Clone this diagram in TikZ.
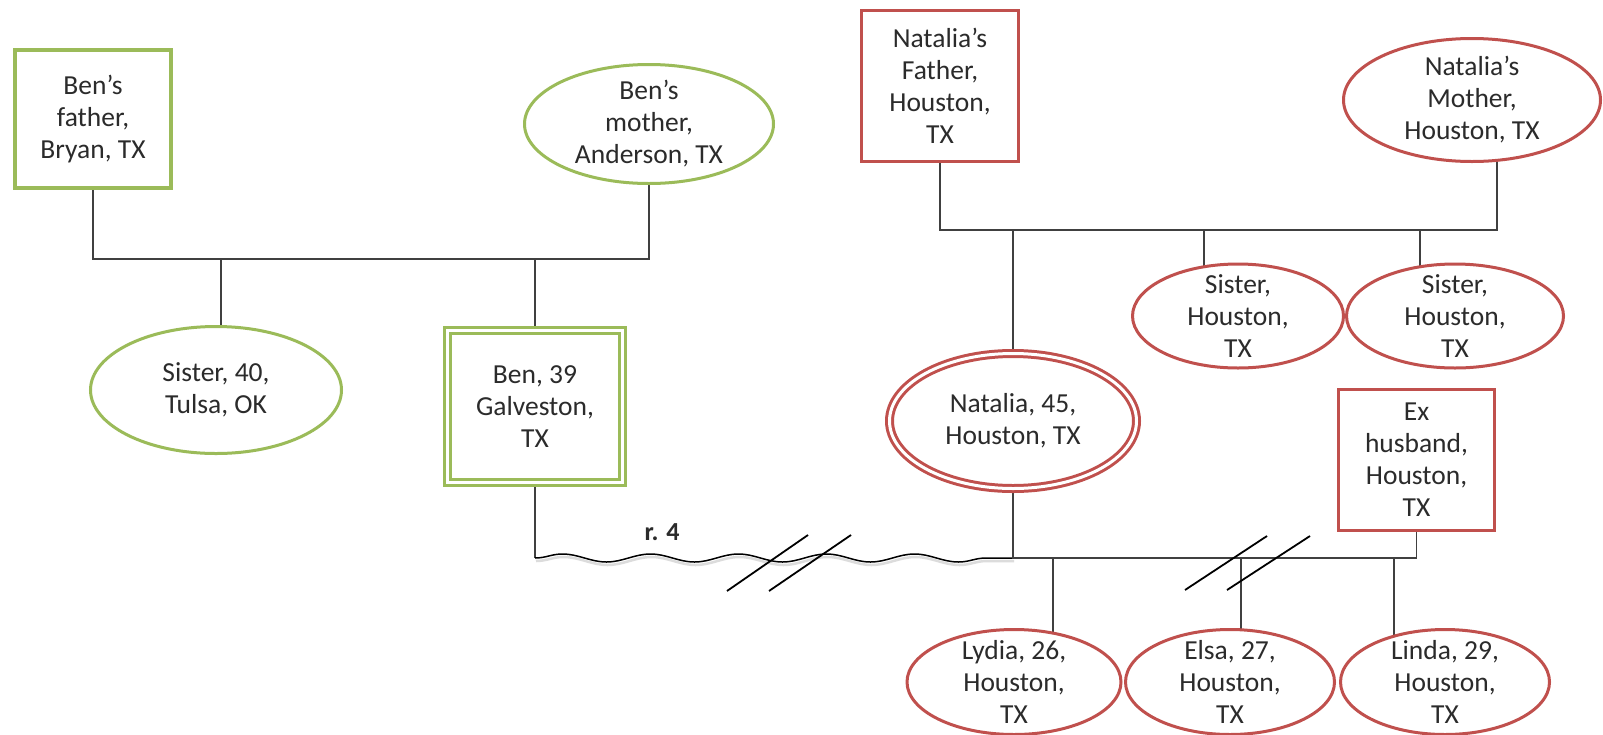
\documentclass[tikz,border=0pt]{standalone}
\usepackage{fontspec}
\setmainfont{Carlito}
\usetikzlibrary{shapes.geometric, decorations.pathmorphing, backgrounds}
\definecolor{grn}{HTML}{9BBB59}
\definecolor{rd}{HTML}{C0504D}
\definecolor{ink}{HTML}{2B2B2B}
\definecolor{wirec}{HTML}{404040}
\begin{document}
\begin{tikzpicture}[x=1pt, y=-1pt,
  person/.style={inner sep=0pt, align=center, text=ink, fill=white,
    font=\fontsize{27.5}{32}\selectfont},
  dims/.style 2 args={minimum width=#1, minimum height=#2},
  greenbox/.style={person, rectangle, draw=grn, line width=3.5pt},
  redbox/.style={person, rectangle, draw=rd, line width=3pt},
  greenoval/.style={person, ellipse, draw=grn, line width=3pt, inner ysep=-20pt},
  redoval/.style={person, ellipse, draw=rd, line width=3pt, inner ysep=-20pt},
  selfmark/.style={double=white, double distance=3pt, line width=3pt},
  wire/.style={draw=wirec, line width=1.8pt},
  wavy/.style={draw=black, line width=1.5pt, decorate,
    decoration={snake, amplitude=4pt, segment length=88pt}},
  slash/.style={draw=black, line width=1.8pt}
]
\useasboundingbox (0,0) rectangle (1603,734);
\begin{scope}[on background layer]
  \fill[white] (0,0) rectangle (1603,734);
\end{scope}

% Ben's family
\node[greenbox, dims={156}{138}] (bfather) at (93,119) {Ben’s\\father,\\Bryan, TX};
\node[greenoval, dims={249}{119}] (bmother) at (649,124) {Ben’s\\mother,\\Anderson, TX};
\node[greenoval, dims={251}{127}] (bsister) at (216,390) {Sister, 40,\\Tulsa, OK};
\node[greenbox, selfmark, dims={175}{152}] (ben) at (535,406.5) {Ben, 39\\Galveston,\\TX};

% Natalia's family
\node[redbox, dims={157}{151}] (nfather) at (940,85.5) {Natalia’s\\Father,\\Houston,\\TX};
\node[redoval, dims={257}{123}] (nmother) at (1472,100) {Natalia’s\\Mother,\\Houston, TX};
\node[redoval, dims={211}{104}] (nsis1) at (1238,316) {Sister,\\Houston,\\TX};
\node[redoval, dims={217}{104}] (nsis2) at (1455,316) {Sister,\\Houston,\\TX};
\node[redoval, selfmark, dims={247}{135}] (natalia) at (1013,421) {Natalia, 45,\\Houston, TX};
\node[redbox, dims={156}{141}] (exh) at (1416.5,460) {Ex\\husband,\\Houston,\\TX};
\node[redoval, dims={214}{105}] (lydia) at (1014,682) {Lydia, 26,\\Houston,\\TX};
\node[redoval, dims={209}{105}] (elsa) at (1230,682) {Elsa, 27,\\Houston,\\TX};
\node[redoval, dims={209}{105}] (linda) at (1445,682) {Linda, 29,\\Houston,\\TX};

% relationship label
\node[text=ink, font=\bfseries\fontsize{26}{30}\selectfont] (rlabel) at (662,532) {r. 4};

% bar heights
\coordinate (bbar) at (0,259);
\coordinate (nbar) at (0,230);
\coordinate (kbar) at (0,558);

\begin{scope}[on background layer]
  % Ben's parents and their children
  \draw[wire] (bfather.center) -- (bfather.center |- bbar)
    -- (bmother.center |- bbar) -- (bmother.center);
  \draw[wire] ([xshift=5pt]bsister.center |- bbar) -- ([xshift=5pt]bsister.center);
  \draw[wire] (ben.center |- bbar) -- (ben.center);
  % Natalia's parents and their children
  \draw[wire] (nfather.center) -- (nfather.center |- nbar)
    -- ([xshift=25pt]nmother.center |- nbar) -- ([xshift=25pt]nmother.center);
  \draw[wire] (natalia.center |- nbar) -- (natalia.center);
  \draw[wire] ([xshift=-34pt]nsis1.center |- nbar) -- ([xshift=-34pt]nsis1.center);
  \draw[wire] ([xshift=-35pt]nsis2.center |- nbar) -- ([xshift=-35pt]nsis2.center);
  % Ben and Natalia
  \draw[wire] (ben.center) -- (ben.center |- kbar);
  \draw[gray!45, line width=2.5pt, opacity=0.6, decorate,
    decoration={snake, amplitude=4pt, segment length=88pt},
    transform canvas={xshift=1pt, yshift=-3pt}]
    (ben.center |- kbar) -- (natalia.center |- kbar);
  \draw[wavy] (ben.center |- kbar) -- (natalia.center |- kbar);
  % Natalia, her ex husband and their daughters
  \draw[wire] (natalia.center) -- (natalia.center |- kbar)
    -- (exh.center |- kbar) -- (exh.center);
  \draw[wire] ([xshift=39pt]lydia.center |- kbar) -- ([xshift=39pt]lydia.center);
  \draw[wire] ([xshift=11pt]elsa.center |- kbar) -- ([xshift=11pt]elsa.center);
  \draw[wire] ([xshift=-51pt]linda.center |- kbar) -- ([xshift=-51pt]linda.center);
\end{scope}

% divorce / separation marks
\draw[slash] (727,591) -- (808,535);
\draw[slash] (769,591) -- (851,535);
\draw[slash] (1185,590) -- (1267,536);
\draw[slash] (1227,590) -- (1310,536);
\end{tikzpicture}
\end{document}
